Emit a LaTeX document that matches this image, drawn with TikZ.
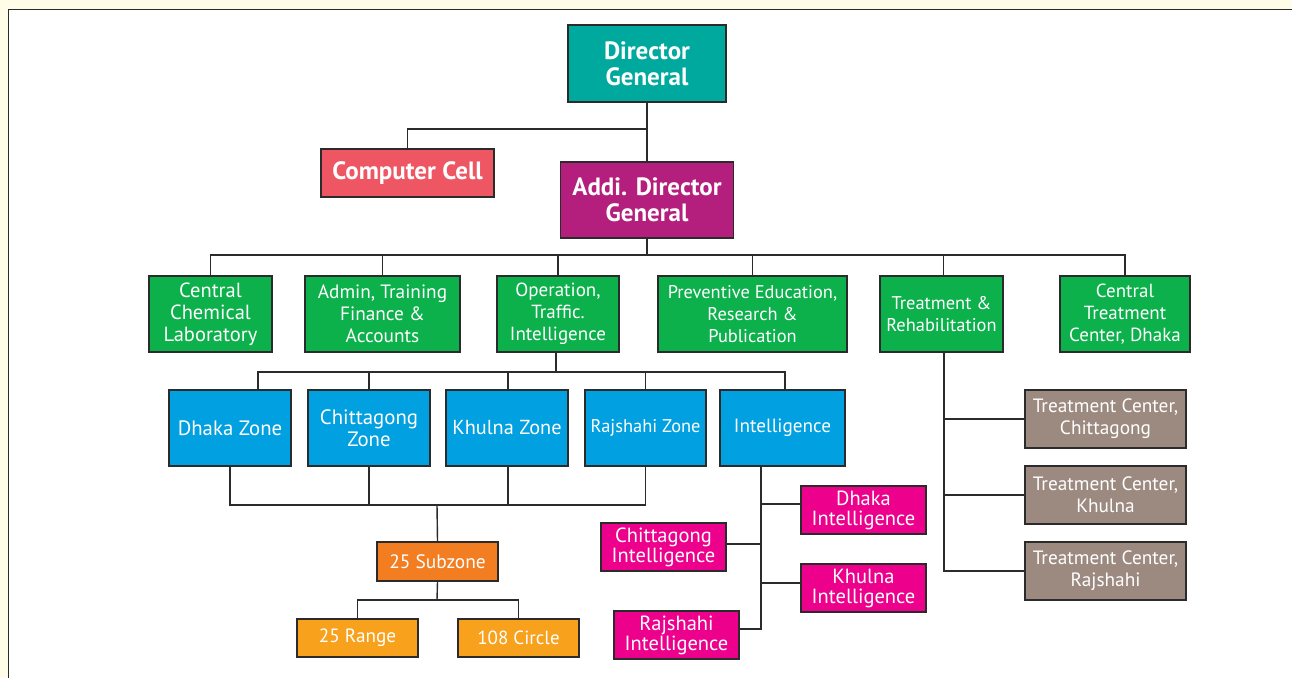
\documentclass[tikz,border=0pt]{standalone}
\usepackage{fontspec}
\setmainfont{PT Sans}
\definecolor{bgcream}{HTML}{FFFCE7}
\definecolor{lnc}{HTML}{2B2B2B}
\definecolor{cteal}{HTML}{00A99D}
\definecolor{ccell}{HTML}{EF5663}
\definecolor{cadg}{HTML}{B41F7E}
\definecolor{cgreen}{HTML}{0CB14B}
\definecolor{cblue}{HTML}{00A0E1}
\definecolor{cpink}{HTML}{EC008C}
\definecolor{corA}{HTML}{F37D21}
\definecolor{corB}{HTML}{F7A11C}
\definecolor{ctaupe}{HTML}{9C8A80}
\tikzset{
  bbox/.style={draw=lnc, line width=1.4pt, text=white, align=center, inner sep=0pt, rectangle},
  bigtxt/.style={font=\bfseries\fontsize{25}{26}\selectfont},
  fs/.style={font=\fontsize{#1}{22}\selectfont},
  inttxt/.style={font=\fontsize{20.5}{20}\selectfont},
  tctxt/.style={font=\fontsize{19.3}{22}\selectfont},
  conn/.style={draw=lnc, line width=1.4pt}
}
\begin{document}
\begin{tikzpicture}[x=1pt,y=-1pt]
\useasboundingbox (0,0) rectangle (1292,678);
\fill[bgcream] (0,0) rectangle (1292,678);
\fill[white] (8.5,9.5) rectangle (1292,678);
\draw[lnc, line width=1.6pt] (8.5,678) -- (8.5,9.5) -- (1292,9.5);

% top
\node[bbox, bigtxt, fill=cteal, minimum width=158pt, minimum height=77pt] (dg) at (647,63.5) {Director\\General};
\node[bbox, bigtxt, fill=ccell, minimum width=173pt, minimum height=48pt] (cc) at (407.5,173) {Computer Cell};
\node[bbox, bigtxt, fill=cadg, minimum width=173pt, minimum height=76pt] (adg) at (647,200) {Addi. Director\\General};

% level 2
\node[bbox, fs=20.5, fill=cgreen, minimum width=123pt, minimum height=76pt] (ccl) at (210.5,314) {Central\\Chemical\\Laboratory};
\node[bbox, fs=19.3, fill=cgreen, minimum width=155pt, minimum height=76pt] (adm) at (382.5,314) {Admin, Training\\Finance \&\\Accounts};
\node[bbox, fs=19, fill=cgreen, minimum width=122pt, minimum height=76pt] (opi) at (558,314) {Operation,\\Traffic.\\Intelligence};
\node[bbox, fs=18.4, fill=cgreen, minimum width=189pt, minimum height=76pt] (pre) at (752.5,314) {Preventive Education,\\Research \&\\Publication};
\node[bbox, fs=18.4, fill=cgreen, minimum width=123pt, minimum height=76pt] (trh) at (941.5,314) {Treatment \&\\Rehabilitation};
\node[bbox, fs=19, fill=cgreen, minimum width=130pt, minimum height=76pt] (ctc) at (1125,314) {Central\\Treatment\\Center, Dhaka};

% zones
\node[bbox, fs=20.8, fill=cblue, minimum width=122pt, minimum height=76pt] (dz) at (230,428) {Dhaka Zone};
\node[bbox, fs=20.8, fill=cblue, minimum width=122pt, minimum height=76pt] (cz) at (369,428) {Chittagong\\Zone};
\node[bbox, fs=20.3, fill=cblue, minimum width=122pt, minimum height=76pt] (kz) at (507,428) {Khulna Zone};
\node[bbox, fs=18.4, fill=cblue, minimum width=121pt, minimum height=76pt] (rz) at (645.5,428) {Rajshahi Zone};
\node[bbox, fs=19.2, fill=cblue, minimum width=125pt, minimum height=76pt] (iz) at (782.5,428) {Intelligence};

% subzone
\node[bbox, fs=19.4, fill=corA, minimum width=121pt, minimum height=39pt] (sz) at (437.5,561.5) {25 Subzone};
\node[bbox, fs=19.2, fill=corB, minimum width=121pt, minimum height=38pt] (r25) at (357.5,638) {25 Range};
\node[bbox, fs=19, fill=corB, minimum width=121pt, minimum height=38pt] (c108) at (518.5,638) {108 Circle};

% intelligence
\node[bbox, inttxt, fill=cpink, minimum width=125pt, minimum height=48pt] (di) at (863.5,510) {Dhaka\\Intelligence};
\node[bbox, inttxt, fill=cpink, minimum width=125pt, minimum height=48pt] (ci) at (663.5,547) {Chittagong\\Intelligence};
\node[bbox, inttxt, fill=cpink, minimum width=125pt, minimum height=48pt] (ki) at (863.5,588) {Khulna\\Intelligence};
\node[bbox, inttxt, fill=cpink, minimum width=125pt, minimum height=48pt] (ri) at (676.5,635) {Rajshahi\\Intelligence};

% treatment centers
\node[bbox, tctxt, fill=ctaupe, minimum width=161pt, minimum height=58pt] (tcc) at (1105.5,419) {Treatment Center,\\Chittagong};
\node[bbox, tctxt, fill=ctaupe, minimum width=161pt, minimum height=58pt] (tck) at (1105.5,495) {Treatment Center,\\Khulna};
\node[bbox, tctxt, fill=ctaupe, minimum width=161pt, minimum height=58pt] (tcr) at (1105.5,571) {Treatment Center,\\Rajshahi};

% junctions
\coordinate (j1) at (647,129);
\coordinate (h2) at (647,255);
\coordinate (h3) at (556,372);
\coordinate (h4) at (437,505);
\coordinate (h5) at (437,600);
\coordinate (it) at (761,629);
\coordinate (tt) at (944,571);

% connectors
\draw[conn] (dg.south) -- (adg.north);
\draw[conn] (j1) -| (cc.north);
\draw[conn] (adg.south) -- (h2);
\draw[conn] (ccl.north) |- (h2) -| (ctc.north);
\draw[conn] (adm.north) -- (adm.north |- h2);
\draw[conn] (opi.north) -- (opi.north |- h2);
\draw[conn] (pre.north) -- (pre.north |- h2);
\draw[conn] ([xshift=2pt]trh.north) -- ([xshift=2pt]trh.north |- h2);

\draw[conn] (opi.south -| h3) -- (h3);
\draw[conn] ([xshift=28pt]dz.north) |- (h3) -| ([xshift=2.5pt]iz.north);
\draw[conn] (cz.north) -- (cz.north |- h3);
\draw[conn] ([xshift=1pt]kz.north) -- ([xshift=1pt]kz.north |- h3);
\draw[conn] (rz.north) -- (rz.north |- h3);

\draw[conn] (dz.south) |- (h4) -| (rz.south);
\draw[conn] (cz.south) -- (cz.south |- h4);
\draw[conn] ([xshift=1pt]kz.south) -- ([xshift=1pt]kz.south |- h4);
\draw[conn] (h4) -- (sz.north);
\draw[conn] (sz.south) -- (h5);
\draw[conn] (r25.north) |- (h5) -| (c108.north);

\draw[conn] (iz.south -| it) -- (it) -- ([yshift=6pt]ri.east);
\draw[conn] ([yshift=6pt]di.west) -- ([yshift=6pt]di.west -| it);
\draw[conn] ([yshift=3pt]ci.east) -- ([yshift=3pt]ci.east -| it);
\draw[conn] ([yshift=5pt]ki.west) -- ([yshift=5pt]ki.west -| it);

\draw[conn] (trh.south -| tt) |- (tcr.west);
\draw[conn] (tcc.west) -- (tcc.west -| tt);
\draw[conn] (tck.west) -- (tck.west -| tt);
\end{tikzpicture}
\end{document}
